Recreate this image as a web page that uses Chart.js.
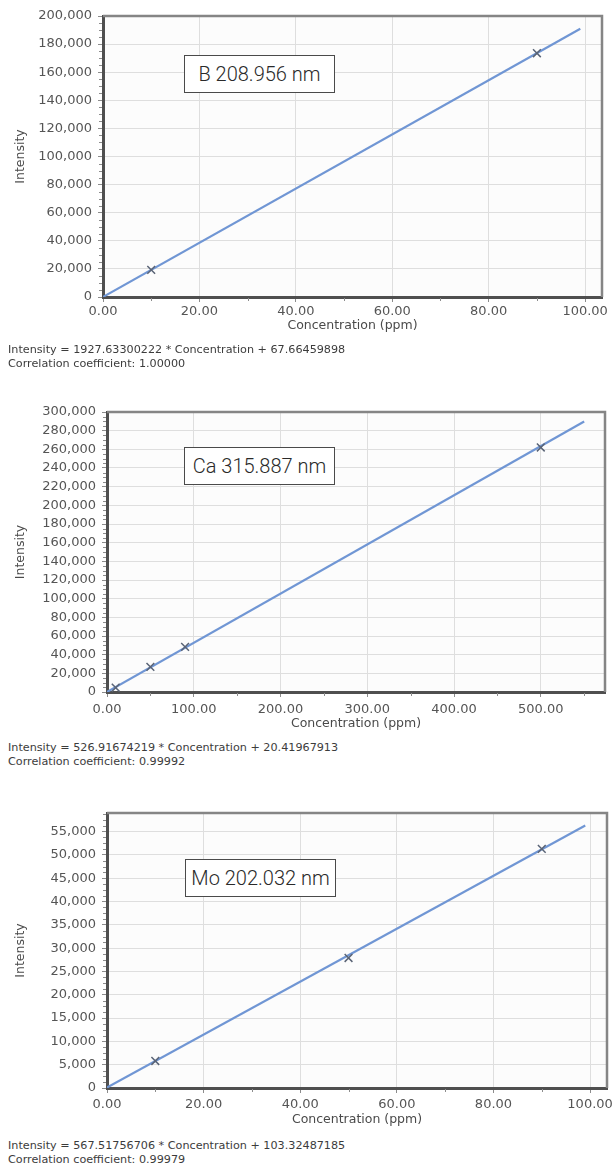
<!DOCTYPE html>
<html>
<head>
<meta charset="utf-8">
<script src="https://cdn.jsdelivr.net/npm/chart.js@4/dist/chart.umd.min.js"></script>
<style>
  html, body { margin: 0; padding: 0; background: #fff; width: 616px; height: 1170px; overflow: hidden; }
  .panel { position: absolute; left: 0; width: 616px; }
  .panel canvas { position: absolute; left: 0; top: 0; }
  .tag { position: absolute; box-sizing: border-box; border: 1px solid #4a4a4a; background: #fff;
         font-family: Roboto, sans-serif; font-weight: 300; font-size: 20px; color: #2a2a2a;
         display: flex; align-items: center; justify-content: center; white-space: nowrap; }
  .eq { position: absolute; left: 8px; font-family: 'DejaVu Sans', sans-serif; font-size: 11.2px;
        color: #3c3c3c; line-height: 13.5px; white-space: nowrap; }
</style>
</head>
<body>
<script>
// ---- B 208.956 nm calibration ----
const bStdConc = [10, 90];
const bStdInt  = [19300, 173500];
const bFitConc = [0, 99];
const bFitInt  = [68, 190900];
const bXTicks  = [0, 20, 40, 60, 80, 100];
const bYTicks  = [0, 20000, 40000, 60000, 80000, 100000, 120000, 140000, 160000, 180000, 200000];

// ---- Ca 315.887 nm calibration ----
const caStdConc = [10, 50, 90, 500];
const caStdInt  = [4600, 27000, 48300, 262000];
const caFitConc = [0, 550];
const caFitInt  = [20, 289800];
const caXTicks  = [0, 100, 200, 300, 400, 500];
const caYTicks  = [0, 20000, 40000, 60000, 80000, 100000, 120000, 140000, 160000, 180000,
                   200000, 220000, 240000, 260000, 280000, 300000];

// ---- Mo 202.032 nm calibration ----
const moStdConc = [10, 50, 90];
const moStdInt  = [5800, 27900, 51300];
const moFitConc = [0, 99];
const moFitInt  = [103, 56300];
const moXTicks  = [0, 20, 40, 60, 80, 100];
const moYTicks  = [0, 5000, 10000, 15000, 20000, 25000, 30000, 35000, 40000, 45000, 50000, 55000];

// axis ranges
const xMaxes = [103.5, 574, 103.5];
const yMaxes = [200000, 300000, 59000];

// labels
const lineNames = ['B 208.956 nm', 'Ca 315.887 nm', 'Mo 202.032 nm'];
const equationTexts = [
  'Intensity = 1927.63300222 * Concentration + 67.66459898',
  'Intensity = 526.91674219 * Concentration + 20.41967913',
  'Intensity = 567.51756706 * Concentration + 103.32487185'
];
const correlationTexts = ['1.00000', '0.99992', '0.99979'];
const xTitle = 'Concentration (ppm)';
const yTitle = 'Intensity';

const seriesConc = [bStdConc, caStdConc, moStdConc];
const seriesInt  = [bStdInt, caStdInt, moStdInt];
const fitConc    = [bFitConc, caFitConc, moFitConc];
const fitInt     = [bFitInt, caFitInt, moFitInt];
const xTickSets  = [bXTicks, caXTicks, moXTicks];
const yTickSets  = [bYTicks, caYTicks, moYTicks];

// page layout of each panel (page pixels)
const layouts = [
  { top: 0,   h: 345, l: 103, t: 16,  r: 602, b: 297,  xLab: 312,  xTit: 326,  tag: [184, 55, 151, 38],  eq: 343 },
  { top: 385, h: 345, l: 107, t: 412, r: 605, b: 692,  xLab: 710,  xTit: 724,  tag: [184, 447, 151, 38], eq: 741 },
  { top: 790, h: 345, l: 107, t: 813, r: 607, b: 1088, xLab: 1105, xTit: 1120, tag: [185, 859, 151, 38], eq: 1139 }
];

const TICK_FONT = 13;
const TITLE_FONT = 12.5;
const TICK_LEN = 5;
const FONT = "'DejaVu Sans', Verdana, sans-serif";

// plot background, top/right frame and minor ticks
const framePlugin = {
  id: 'frame',
  beforeDraw(chart) {
    const a = chart.chartArea, ctx = chart.ctx;
    ctx.save();
    ctx.fillStyle = '#fcfcfc';
    ctx.fillRect(a.left, a.top, a.right - a.left, a.bottom - a.top);
    ctx.restore();
  },
  afterDraw(chart) {
    const a = chart.chartArea, ctx = chart.ctx;
    const xs = chart.scales.x, ys = chart.scales.y;
    const o = chart.options.plugins.frame;
    ctx.save();
    // minor ticks between the labelled ones
    ctx.strokeStyle = '#8c8c8c';
    ctx.lineWidth = 1;
    ctx.beginPath();
    const xm = o.xStep / 2;
    for (let v = xm; v < xs.max; v += xm) {
      if (Math.abs(v / o.xStep - Math.round(v / o.xStep)) < 1e-6) continue;
      const px = Math.round(xs.getPixelForValue(v)) + 0.5;
      ctx.moveTo(px, a.bottom + 1); ctx.lineTo(px, a.bottom + 4);
    }
    const ym = o.yStep / 4;
    for (let v = ym; v < ys.max; v += ym) {
      if (Math.abs(v / o.yStep - Math.round(v / o.yStep)) < 1e-6) continue;
      const py = Math.round(ys.getPixelForValue(v)) + 0.5;
      ctx.moveTo(a.left - 4, py); ctx.lineTo(a.left - 1, py);
    }
    ctx.stroke();
    // top and right frame
    ctx.strokeStyle = '#858585';
    ctx.lineWidth = 2.5;
    ctx.beginPath();
    ctx.moveTo(a.left, a.top); ctx.lineTo(a.right, a.top); ctx.lineTo(a.right, a.bottom);
    ctx.stroke();
    ctx.restore();
  }
};

layouts.forEach((L, i) => {
  const panel = document.createElement('div');
  panel.className = 'panel';
  panel.style.top = L.top + 'px';
  panel.style.height = L.h + 'px';
  const canvas = document.createElement('canvas');
  canvas.width = 616; canvas.height = L.h;
  canvas.style.width = '616px'; canvas.style.height = L.h + 'px';
  panel.appendChild(canvas);
  document.body.appendChild(panel);

  // boxed emission-line name
  const tag = document.createElement('div');
  tag.className = 'tag';
  tag.style.left = L.tag[0] + 'px'; tag.style.top = L.tag[1] + 'px';
  tag.style.width = L.tag[2] + 'px'; tag.style.height = L.tag[3] + 'px';
  tag.textContent = lineNames[i];
  document.body.appendChild(tag);

  // regression text under the plot
  const eq = document.createElement('div');
  eq.className = 'eq';
  eq.style.top = L.eq + 'px';
  const l1 = document.createElement('div'); l1.textContent = equationTexts[i];
  const l2 = document.createElement('div'); l2.textContent = 'Correlation coefficient: ' + correlationTexts[i];
  eq.appendChild(l1); eq.appendChild(l2);
  document.body.appendChild(eq);

  const tickLH = TICK_FONT * 1.2;
  const titleLH = TITLE_FONT * 1.2;
  const xPad = (L.xLab - L.b) - TICK_LEN - tickLH / 2;
  const xScaleH = (L.xTit + titleLH / 2) - L.b;
  const padBottom = (L.top + L.h) - (L.xTit + titleLH / 2);

  const xTicks = xTickSets[i], yTicks = yTickSets[i];
  const xStep = xTicks[1] - xTicks[0], yStep = yTicks[1] - yTicks[0];

  const fitPts = fitConc[i].map((c, k) => ({ x: c, y: fitInt[i][k] }));
  const stdPts = seriesConc[i].map((c, k) => ({ x: c, y: seriesInt[i][k] }));

  new Chart(canvas, {
    type: 'scatter',
    data: {
      datasets: [
        { data: fitPts, showLine: true, borderColor: '#7096d4', borderWidth: 2.2,
          pointRadius: 0, fill: false, order: 2 },
        { data: stdPts, showLine: false, pointStyle: 'crossRot', pointRadius: 5.5,
          borderColor: '#5a6476', borderWidth: 1.5, order: 1 }
      ]
    },
    plugins: [framePlugin],
    options: {
      responsive: false,
      animation: false,
      devicePixelRatio: 1,
      layout: { padding: { left: 0, top: L.t - L.top, right: 616 - L.r, bottom: padBottom } },
      plugins: {
        legend: { display: false },
        tooltip: { enabled: false },
        frame: { xStep: xStep, yStep: yStep }
      },
      scales: {
        x: {
          type: 'linear', min: 0, max: xMaxes[i],
          ticks: { color: '#555', padding: xPad,
                   font: { family: FONT, size: TICK_FONT },
                   maxRotation: 0, autoSkip: false,
                   callback: v => Number(v).toFixed(2) },
          grid: { color: '#dedede', lineWidth: 1, tickLength: TICK_LEN, tickColor: '#8c8c8c' },
          border: { color: '#4f4f4f', width: 3 },
          title: { display: true, text: xTitle, color: '#4a4a4a', padding: 0,
                   font: { family: FONT, size: TITLE_FONT } },
          afterBuildTicks: s => { s.ticks = xTicks.map(v => ({ value: v })); },
          afterFit: s => { s.height = xScaleH; s.paddingLeft = 0; s.paddingRight = 0; }
        },
        y: {
          type: 'linear', min: 0, max: yMaxes[i],
          ticks: { color: '#555', padding: 6, autoSkip: false,
                   font: { family: FONT, size: TICK_FONT },
                   callback: v => Number(v).toLocaleString('en-US') },
          grid: { color: '#dedede', lineWidth: 1, tickLength: TICK_LEN, tickColor: '#8c8c8c' },
          border: { color: '#4f4f4f', width: 3 },
          title: { display: true, text: yTitle, color: '#4a4a4a',
                   padding: { top: 21 - 0.6 * TITLE_FONT, bottom: 0 },
                   font: { family: FONT, size: TITLE_FONT } },
          afterBuildTicks: s => { s.ticks = yTicks.map(v => ({ value: v })); },
          afterFit: s => { s.width = L.l; s.paddingTop = 0; s.paddingBottom = 0; }
        }
      }
    }
  });
});
</script>
</body>
</html>
